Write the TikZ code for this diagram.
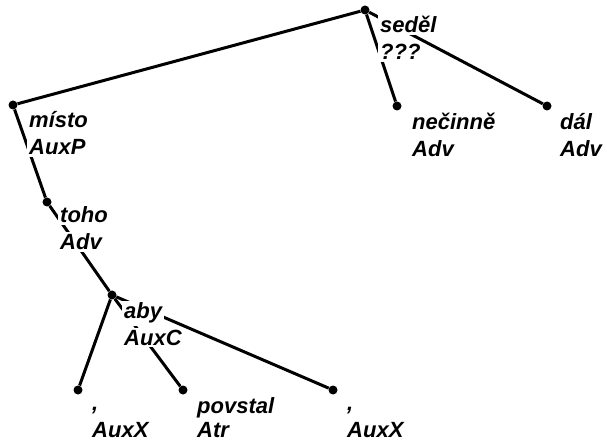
\documentclass[tikz,border=0pt]{standalone}
\usepackage{fontspec}
\setmainfont{Liberation Sans}
\usetikzlibrary{positioning}

\begin{document}
\begin{tikzpicture}[x=1pt, y=-1pt,
    dot/.style={circle, fill=black, inner sep=0pt, minimum size=9pt},
    edge/.style={line width=3pt, black},
    lbl/.style={anchor=base west, fill=white, inner sep=2pt,
      font=\fontsize{22}{26}\selectfont\bfseries\itshape}]
\useasboundingbox (0,0) rectangle (607,443);

% --- tree nodes ---
\node[dot] (sedel) at (365,10) {};
\node[dot] (misto) at (13,105) {};
\node[dot] (necinne) at (397,106) {};
\node[dot] (dal) at (547,106) {};
\node[dot] (toho) at (47,202) {};
\node[dot] (aby) at (112,295) {};
\node[dot] (carka1) at (78,390) {};
\node[dot] (povstal) at (183,390) {};
\node[dot] (carka2) at (333,390) {};

% --- dependencies ---
\draw[edge] (misto) -- (sedel);
\foreach \t in {necinne,dal}{\draw[edge] (sedel) -- (\t);}
\draw[edge] (misto) -- (toho);
\draw[edge] (toho) -- (aby);
\foreach \t in {carka1,povstal,carka2}{\draw[edge] (aby) -- (\t);}

% --- labels (form / afun) ---
\node[lbl] (sedelF) at (378,33) {seděl};
\node[lbl] (sedelA) at (378,60) {???};
\node[lbl] (mistoF) at (27,128) {místo};
\node[lbl] (mistoA) at (27,155) {AuxP};
\node[lbl] (necinneF) at (410,130) {nečinně};
\node[lbl] (necinneA) at (410,157) {Adv};
\node[lbl] (dalF) at (558,130) {dál};
\node[lbl] (dalA) at (558,157) {Adv};
\node[lbl] (tohoF) at (58,223) {toho};
\node[lbl] (tohoA) at (58,250) {Adv};
\node[lbl] (abyF) at (122,319) {aby};
\node[lbl] (abyA) at (122,345) {AuxC};
\node[lbl] (carka1F) at (90,410) {,};
\node[lbl] (carka1A) at (90,437) {AuxX};
\node[lbl] (povstalF) at (195,413) {povstal};
\node[lbl] (povstalA) at (195,437) {Atr};
\node[lbl] (carka2F) at (345,410) {,};
\node[lbl] (carka2A) at (345,437) {AuxX};
\end{tikzpicture}
\end{document}
